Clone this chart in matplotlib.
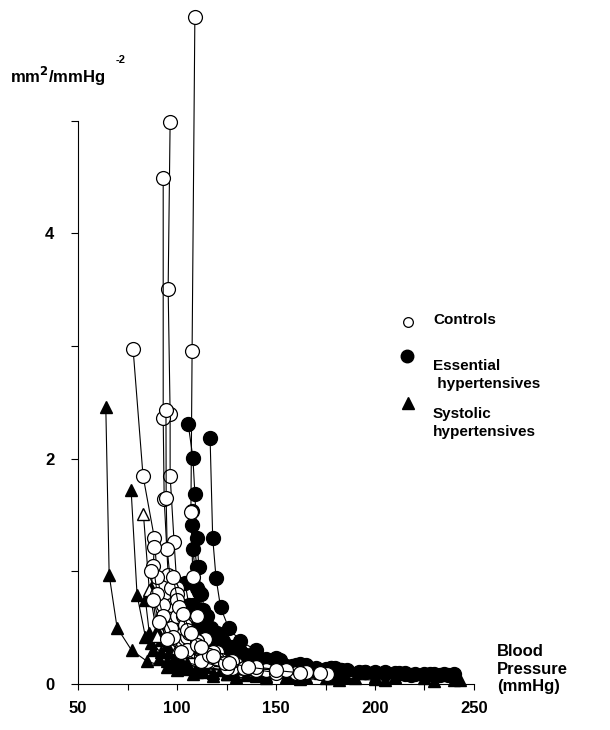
import matplotlib.pyplot as plt

plt.rcParams['font.family'] = ['Liberation Sans', 'DejaVu Sans']
plt.rcParams['font.weight'] = 'bold'

# pressure (mmHg) / compliance for each subject curve
controls_p = [
    [109, 107.6, 107, 108, 110, 114, 120, 128, 140],
    [96.5, 95.5, 96.5, 96.5, 98.5, 100, 104, 110, 118, 130, 145],
    [93, 93, 93.5, 95.5, 97, 100, 106, 115, 128, 150],
    [77.8, 82.8, 88.5, 90, 93, 97, 103, 112, 125, 140],
    [94.4, 94.5, 95, 97, 100, 105, 112, 122, 135],
    [88.5, 88, 90, 93, 98, 105, 115, 128],
    [100, 103, 106, 112, 120, 135, 160, 176],
    [87, 88, 91, 95, 102, 112, 125],
    [100, 104, 110, 118, 128, 140, 155, 165, 172],
    [98, 101, 105, 110, 116, 124, 134],
    [103, 107, 112, 118, 126, 136, 150, 162],
]
controls_c = [
    [5.92, 2.96, 1.53, 0.95, 0.6, 0.4, 0.28, 0.2, 0.14],
    [4.99, 3.51, 2.40, 1.85, 1.26, 0.85, 0.55, 0.38, 0.27, 0.18, 0.12],
    [4.49, 2.36, 1.64, 0.97, 0.7, 0.5, 0.35, 0.24, 0.16, 0.1],
    [2.97, 1.85, 1.30, 0.95, 0.7, 0.5, 0.36, 0.25, 0.17, 0.12],
    [2.43, 1.65, 1.2, 0.85, 0.6, 0.42, 0.3, 0.21, 0.15],
    [1.22, 1.05, 0.8, 0.6, 0.42, 0.3, 0.2, 0.14],
    [0.8, 0.6, 0.45, 0.32, 0.22, 0.15, 0.1, 0.09],
    [1.0, 0.75, 0.55, 0.4, 0.28, 0.2, 0.14],
    [0.75, 0.52, 0.38, 0.28, 0.2, 0.15, 0.12, 0.11, 0.1],
    [0.95, 0.68, 0.48, 0.35, 0.26, 0.19, 0.14],
    [0.62, 0.45, 0.33, 0.25, 0.19, 0.15, 0.12, 0.1],
]

essential_p = [
    [105.6, 108, 109, 110, 111, 112, 115, 120, 128, 138, 150, 165, 180, 200, 218],
    [116.7, 118, 119.7, 122, 126, 132, 140, 150, 162, 178, 195, 210, 233],
    [107.6, 108, 110, 113, 118, 125, 135, 148, 163, 183, 205, 237],
    [107.6, 110, 111, 113, 117, 123, 132, 145, 160, 178, 200, 225],
    [104, 106, 109, 114, 120, 130, 142, 158, 175, 192, 215],
    [105, 110, 118, 128, 140, 155, 170, 186, 205, 230],
    [112, 116, 122, 130, 140, 152, 165, 180, 212, 240],
    [108, 112, 118, 126, 136, 148, 162, 178, 195, 215, 235],
    [110, 114, 120, 128, 138, 150, 165, 182, 200, 220],
    [115, 121, 129, 139, 151, 166, 183, 205, 228],
]
essential_c = [
    [2.31, 2.01, 1.69, 1.3, 1.04, 0.8, 0.6, 0.45, 0.33, 0.25, 0.19, 0.15, 0.12, 0.1, 0.08],
    [2.18, 1.30, 0.94, 0.68, 0.5, 0.38, 0.3, 0.23, 0.18, 0.14, 0.11, 0.1, 0.08],
    [1.54, 1.2, 0.85, 0.62, 0.45, 0.34, 0.26, 0.2, 0.16, 0.12, 0.1, 0.08],
    [1.41, 1.04, 0.82, 0.66, 0.5, 0.38, 0.29, 0.22, 0.17, 0.14, 0.11, 0.09],
    [0.9, 0.7, 0.55, 0.42, 0.33, 0.26, 0.2, 0.16, 0.13, 0.11, 0.09],
    [0.5, 0.38, 0.3, 0.24, 0.2, 0.16, 0.14, 0.12, 0.11, 0.09],
    [0.55, 0.45, 0.36, 0.3, 0.25, 0.21, 0.17, 0.14, 0.1, 0.09],
    [0.7, 0.5, 0.38, 0.3, 0.24, 0.19, 0.15, 0.13, 0.11, 0.1, 0.09],
    [0.38, 0.3, 0.25, 0.21, 0.18, 0.15, 0.13, 0.11, 0.1, 0.09],
    [0.3, 0.25, 0.22, 0.19, 0.16, 0.14, 0.12, 0.1, 0.09],
]

systolic_p = [
    [64, 65.7, 69.7, 77, 85, 95, 110, 125, 145, 165, 190],
    [76.8, 79.8, 84, 86.9, 92, 100, 110, 125, 140, 160, 185, 210, 243],
    [87, 90, 92, 96, 102, 110, 122, 140, 160, 185],
    [84, 86, 88, 91, 97, 106, 118, 135, 155, 175],
    [92, 95, 99, 105, 114, 126, 142, 160, 180, 200, 225, 240],
    [100, 108, 118, 130, 145, 162, 182, 205, 230],
    [95, 103, 113, 125, 140, 158, 178, 200],
]
systolic_c = [
    [2.46, 0.97, 0.5, 0.30, 0.2, 0.15, 0.11, 0.09, 0.07, 0.06, 0.05],
    [1.72, 0.79, 0.42, 0.36, 0.28, 0.2, 0.15, 0.12, 0.1, 0.08, 0.07, 0.06, 0.04],
    [0.85, 0.48, 0.39, 0.28, 0.2, 0.15, 0.12, 0.09, 0.07, 0.06],
    [0.75, 0.45, 0.3, 0.22, 0.17, 0.13, 0.1, 0.08, 0.06, 0.05],
    [0.55, 0.35, 0.25, 0.19, 0.15, 0.12, 0.1, 0.085, 0.07, 0.06, 0.05, 0.04],
    [0.12, 0.09, 0.07, 0.06, 0.05, 0.045, 0.04, 0.035, 0.03],
    [0.2, 0.14, 0.11, 0.09, 0.07, 0.06, 0.05, 0.045],
]

# open triangle subject
open_tri_p = [83, 86, 90, 100, 106.6, 114, 121.7, 127.8, 134, 155.6, 172]
open_tri_c = [1.51, 0.83, 0.43, 0.32, 0.28, 0.23, 0.21, 0.17, 0.15, 0.12, 0.1]

fig = plt.figure(figsize=(6.1, 7.3), dpi=100)
ax = fig.add_axes([0.128, 0.063, 0.649, 0.926])

for p, c in zip(systolic_p, systolic_c):
    ax.plot(p, c, color='black', lw=0.8, marker='^', ms=9, mfc='black', mec='black', clip_on=False)
for p, c in zip(essential_p, essential_c):
    ax.plot(p, c, color='black', lw=0.8, marker='o', ms=10, mfc='black', mec='black', clip_on=False)
ax.plot(open_tri_p, open_tri_c, color='black', lw=0.8, marker='^', ms=9, mfc='white', mec='black', clip_on=False)
for p, c in zip(controls_p, controls_c):
    ax.plot(p, c, color='black', lw=0.8, marker='o', ms=10, mfc='white', mec='black', mew=0.9, clip_on=False)

ax.set_xlim(50, 250)
ax.set_ylim(0, 6.0)
ax.spines['top'].set_visible(False)
ax.spines['right'].set_visible(False)
ax.spines['left'].set_bounds(0, 5)
ax.spines['bottom'].set_bounds(50, 250)
ax.spines['left'].set_linewidth(0.8)
ax.spines['bottom'].set_linewidth(0.8)

xt = [50, 75, 100, 125, 150, 175, 200, 225, 250]
ax.set_xticks(xt)
ax.set_xticklabels([str(v) if v % 50 == 0 else '' for v in xt])
yt = [0, 1, 2, 3, 4, 5]
ax.set_yticks(yt)
ax.set_yticklabels([str(v) if v % 2 == 0 else '' for v in yt])
ax.tick_params(direction='out', length=4, width=0.8, labelsize=12, pad=8)
ax.tick_params(axis='y', length=5, pad=12)

# axis labels
fig.text(10 / 610, 1 - 76 / 730, 'mm$^\\mathbf{2}$/mmHg', fontsize=12, fontweight='bold', va='center', ha='left')
fig.text(116 / 610, 1 - 60 / 730, '-2', fontsize=8, va='center', ha='left')
fig.text(497 / 610, 1 - 669 / 730, 'Blood\nPressure\n(mmHg)', fontsize=12, fontweight='bold',
         va='center', ha='left', linespacing=1.2)

# legend drawn by hand
fig.lines.append(plt.Line2D([408 / 610], [1 - 322 / 730], marker='o', ms=7, mfc='white', mec='black',
                            mew=0.9, transform=fig.transFigure))
fig.lines.append(plt.Line2D([407 / 610], [1 - 356 / 730], marker='o', ms=9, mfc='black', mec='black',
                            transform=fig.transFigure))
fig.lines.append(plt.Line2D([408 / 610], [1 - 403 / 730], marker='^', ms=8, mfc='black', mec='black',
                            transform=fig.transFigure))
fig.text(433 / 610, 1 - 320 / 730, 'Controls', fontsize=11, va='center', ha='left')
fig.text(433 / 610, 1 - 375 / 730, 'Essential\n hypertensives', fontsize=11, va='center', ha='left',
         linespacing=1.35)
fig.text(433 / 610, 1 - 423 / 730, 'Systolic\nhypertensives', fontsize=11, va='center', ha='left',
         linespacing=1.35)

fig.savefig('out.png', dpi=100)
